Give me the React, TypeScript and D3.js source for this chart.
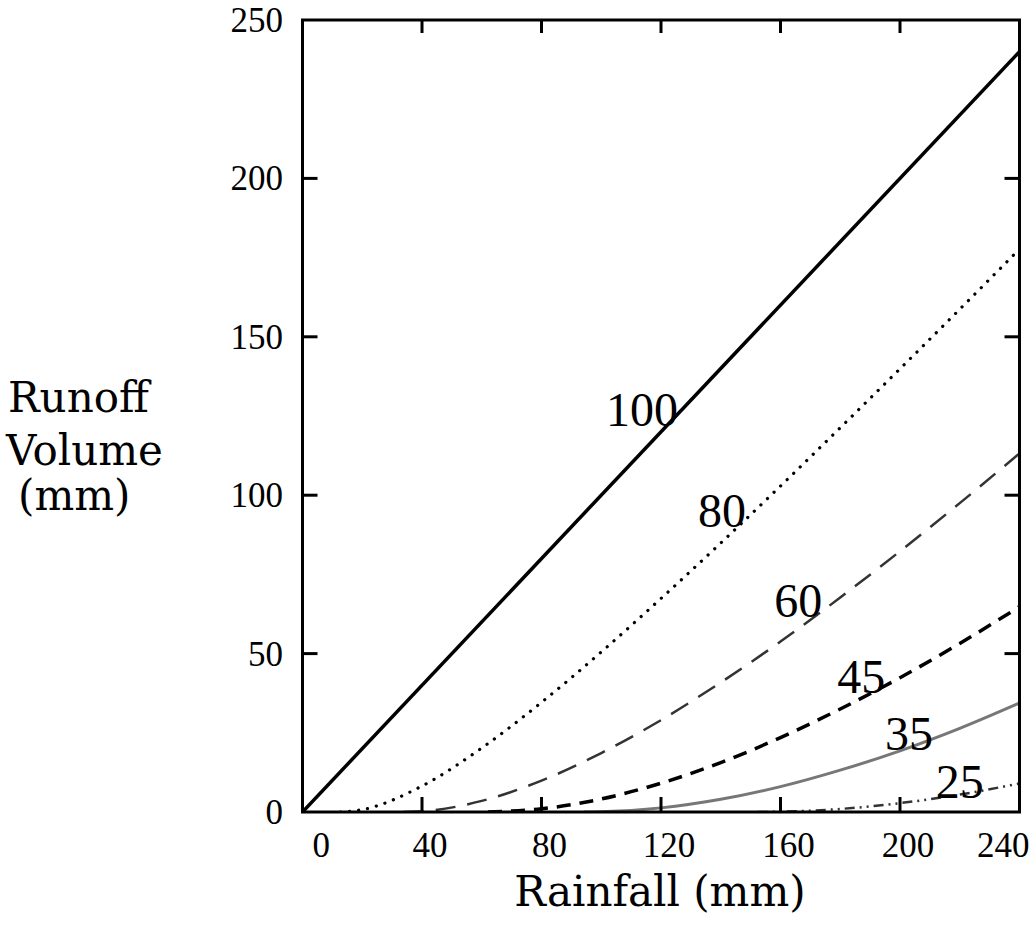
import React from "react";
import * as d3 from "d3";

// curve numbers shown as labels on each line
const curveNumbers = ["100", "80", "60", "45", "35", "25"];

// rainfall (mm) and runoff (mm), one pair per curve
const rain100 = [0, 240];
const runoff100 = [0, 240];

const rain80 = [12.7, 20, 40, 60, 80, 100, 120, 140, 160, 180, 200, 220, 240];
const runoff80 = [0, 0.75, 8.2, 20.2, 34.6, 50.5, 67.4, 84.9, 102.9, 121.3, 139.9, 158.7, 177.7];

const rain60 = [33.9, 40, 60, 80, 100, 120, 140, 160, 180, 200, 220, 240];
const runoff60 = [0, 0.2, 3.5, 9.9, 18.6, 29.0, 40.9, 53.8, 67.7, 82.3, 97.5, 113.2];

const rain45 = [62.1, 80, 100, 120, 140, 160, 180, 200, 220, 240];
const runoff45 = [0, 1.0, 4.1, 9.1, 15.6, 23.5, 32.5, 42.4, 53.2, 64.8];

const rain35 = [94.3, 100, 120, 140, 160, 180, 200, 220, 240];
const runoff35 = [0, 0.07, 1.3, 4.0, 8.0, 13.2, 19.3, 26.4, 34.4];

const rain25 = [152.4, 160, 180, 200, 220, 240];
const runoff25 = [0, 0.08, 0.96, 2.8, 5.5, 9.0];

// where each curve number sits (data units: rainfall, runoff)
const labelRain = [113.6, 140.4, 165.9, 187, 203, 220];
const labelRunoff = [122, 90, 61.6, 37.6, 19.6, 4.4];

const xTicks = [0, 40, 80, 120, 160, 200, 240];
const yTicks = [0, 50, 100, 150, 200, 250];

const rains = [rain100, rain80, rain60, rain45, rain35, rain25];
const runoffs = [runoff100, runoff80, runoff60, runoff45, runoff35, runoff25];

const lineStyles = [
  { stroke: "#000", width: 3.5, dash: null, cap: "butt" },
  { stroke: "#000", width: 3.2, dash: "0.1 9", cap: "round" },
  { stroke: "#333", width: 2.5, dash: "20 12", cap: "butt" },
  { stroke: "#000", width: 3.5, dash: "14 9", cap: "butt" },
  { stroke: "#777", width: 3, dash: null, cap: "butt" },
  { stroke: "#333", width: 2.5, dash: "10 5 2 5 2 5", cap: "butt" },
];

const W = 1032;
const H = 930;
const left = 302.5;
const right = 1019.5;
const top = 20;
const bottom = 812;

const digitFont = "'Liberation Serif', 'Times New Roman', serif";
const titleFont = "'DejaVu Serif', serif";

export default function App() {
  const x = d3.scaleLinear().domain([0, 240]).range([left, right]);
  const y = d3.scaleLinear().domain([0, 250]).range([bottom, top]);

  const line = d3
    .line<[number, number]>()
    .x((d) => x(d[0]))
    .y((d) => y(d[1]))
    .curve(d3.curveMonotoneX);

  const inner = xTicks.filter((t) => t > 0 && t < 240);
  const innerY = yTicks.filter((t) => t > 0 && t < 250);

  return (
    <svg
      width={W}
      height={H}
      style={{ position: "absolute", left: 0, top: 0, background: "#fff" }}
    >
      <defs>
        <clipPath id="plot">
          <rect x={left} y={top} width={right - left} height={bottom - top} />
        </clipPath>
      </defs>

      {/* curves */}
      <g clipPath="url(#plot)" fill="none">
        {rains.map((r, i) => {
          const pts = r.map((p, j) => [p, runoffs[i][j]] as [number, number]);
          const s = lineStyles[i];
          return (
            <path
              key={i}
              d={line(pts) || ""}
              stroke={s.stroke}
              strokeWidth={s.width}
              strokeDasharray={s.dash || undefined}
              strokeLinecap={s.cap as any}
            />
          );
        })}
      </g>

      {/* frame */}
      <rect
        x={left}
        y={top}
        width={right - left}
        height={bottom - top}
        fill="none"
        stroke="#000"
        strokeWidth={3}
      />

      {/* ticks */}
      <g stroke="#000" strokeWidth={3}>
        {inner.map((t) => (
          <g key={"xt" + t}>
            <line x1={x(t)} x2={x(t)} y1={bottom} y2={bottom - 15} />
            <line x1={x(t)} x2={x(t)} y1={top} y2={top + 13} />
          </g>
        ))}
        {innerY.map((t) => (
          <g key={"yt" + t}>
            <line x1={left} x2={left + 15} y1={y(t)} y2={y(t)} />
            <line x1={right} x2={right - 15} y1={y(t)} y2={y(t)} />
          </g>
        ))}
      </g>

      {/* tick labels */}
      <g fontFamily={digitFont} fontSize={35} fill="#000">
        {xTicks.map((t) => {
          let anchor = "middle";
          let dx = 8;
          if (t === 0) {
            anchor = "start";
            dx = 10;
          } else if (t === 240) {
            anchor = "end";
            dx = 10;
          }
          return (
            <text key={"xl" + t} x={x(t) + dx} y={857} textAnchor={anchor}>
              {t}
            </text>
          );
        })}
        {yTicks.map((t) => (
          <text
            key={"yl" + t}
            x={283}
            y={y(t) + 12}
            textAnchor="end"
          >
            {t}
          </text>
        ))}
      </g>

      {/* curve number labels */}
      <g fontFamily={digitFont} fontSize={48} fill="#000" textAnchor="middle">
        {curveNumbers.map((c, i) => (
          <text key={"cn" + c} x={x(labelRain[i])} y={y(labelRunoff[i])}>
            {c}
          </text>
        ))}
      </g>

      {/* axis titles */}
      <text
        x={660}
        y={906}
        textAnchor="middle"
        fontFamily={titleFont}
        fontSize={42}
        fill="#000"
      >
        Rainfall (mm)
      </text>
      <g fontFamily={titleFont} fontSize={42} fill="#000">
        <text x={8} y={412}>
          Runoff
        </text>
        <text x={6} y={465}>
          Volume
        </text>
        <text x={18} y={510}>
          (mm)
        </text>
      </g>
    </svg>
  );
}
